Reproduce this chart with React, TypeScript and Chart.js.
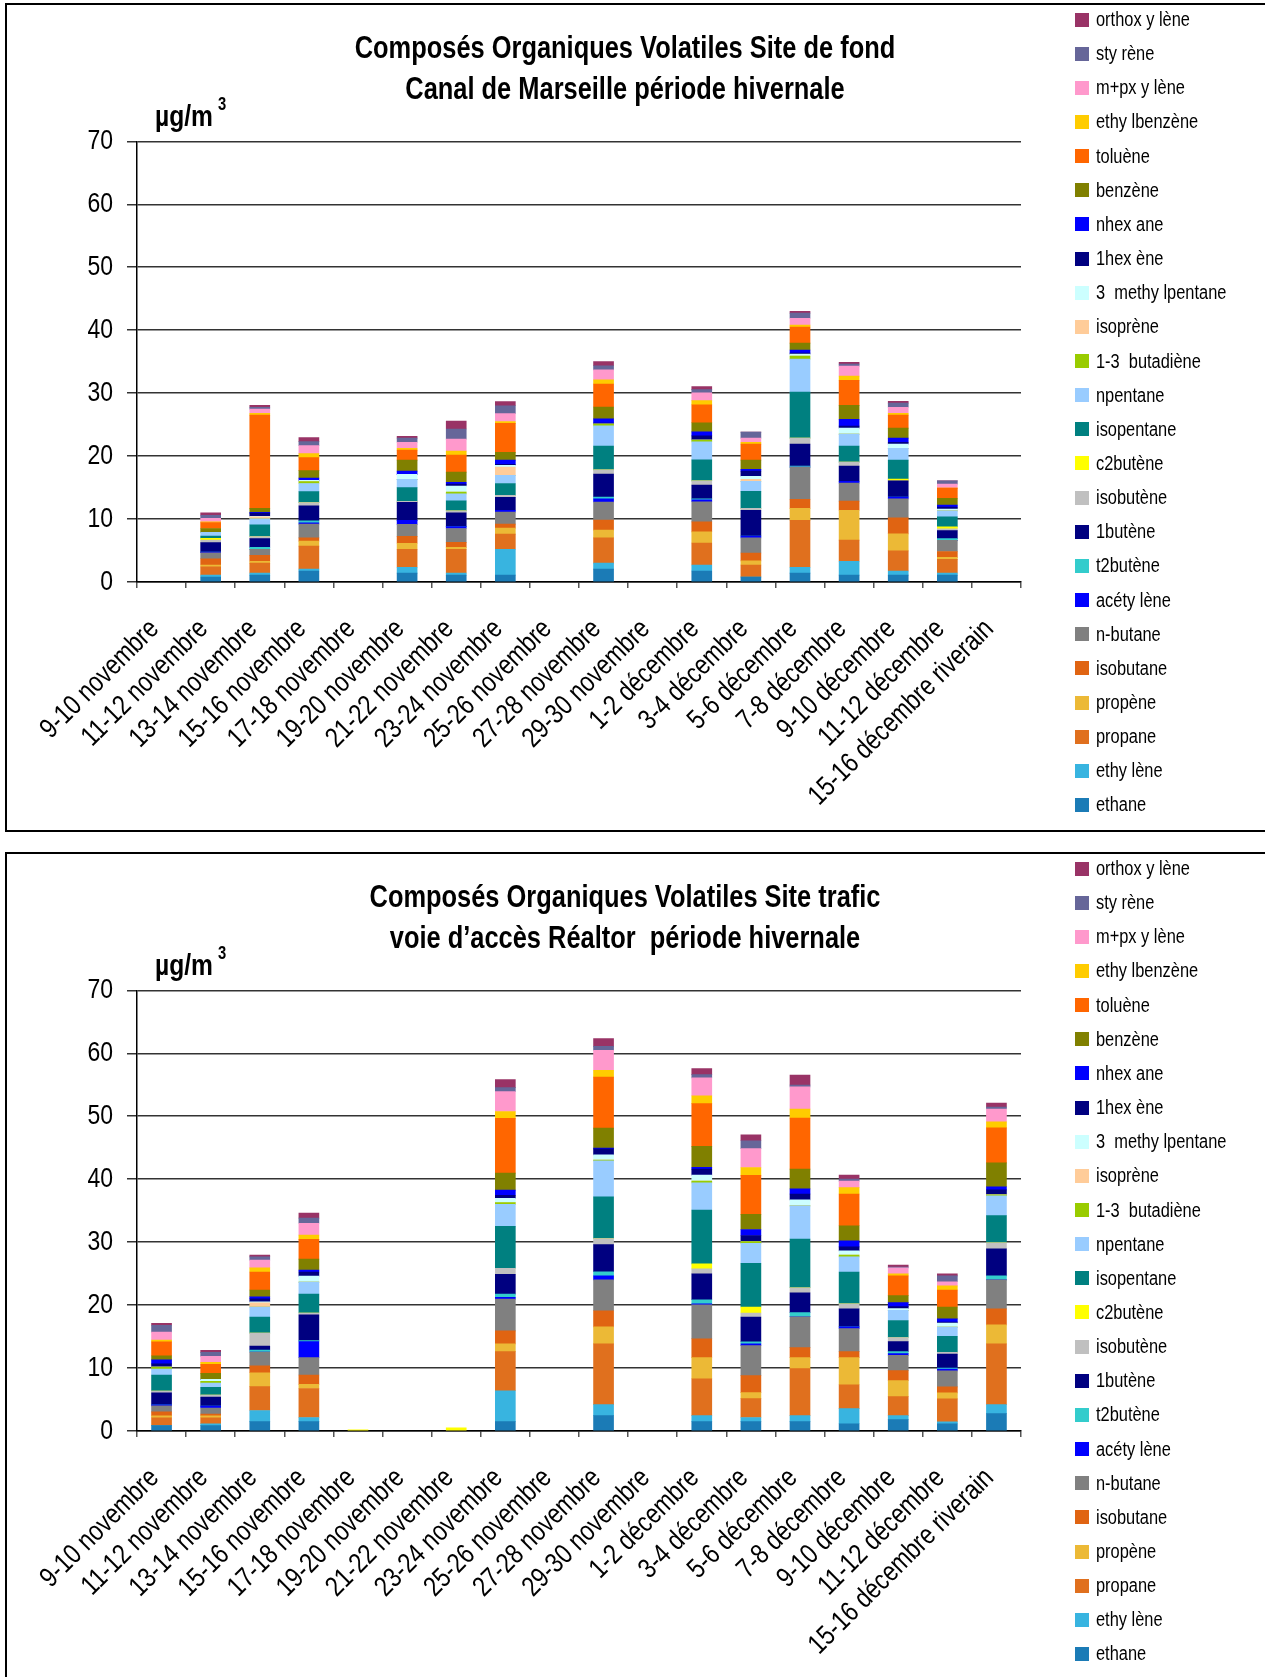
import React, { useEffect, useRef } from "react";
import { Chart, registerables } from "chart.js";

Chart.register(...registerables);

// Arial-metric face; squeezed horizontally to give the narrow look of the labels
const FONT = "'Liberation Sans', Arial, sans-serif";
const NARROW = 0.82;

const categories = [
  "9-10 novembre", "11-12 novembre", "13-14 novembre", "15-16 novembre", "17-18 novembre",
  "19-20 novembre", "21-22 novembre", "23-24 novembre", "25-26 novembre", "27-28 novembre",
  "29-30 novembre", "1-2 décembre", "3-4 décembre", "5-6 décembre", "7-8 décembre",
  "9-10 décembre", "11-12 décembre", "15-16 décembre riverain",
];

const yMin = 0;
const yMax = 70;
const yStep = 10;

// compounds, stacked from the bottom of each bar upwards
const compoundLabels = [
  "ethane", "ethy lène", "propane", "propène", "isobutane", "n-butane", "acéty lène", "t2butène",
  "1butène", "isobutène", "c2butène", "isopentane", "npentane", "1-3  butadiène", "isoprène",
  "3  methy lpentane", "1hex ène", "nhex ane", "benzène", "toluène", "ethy lbenzène", "m+px y lène",
  "sty rène", "orthox y lène",
];

const compoundColors = [
  "#1B7BB6", "#38B4E0", "#E0701E", "#ECB936", "#E06412", "#808080", "#0000FF", "#33CCCC",
  "#000080", "#C0C0C0", "#FFFF00", "#008080", "#99CCFF", "#99CC00", "#FFCC99",
  "#CCFFFF", "#000080", "#0000FF", "#808000", "#FF6600", "#FFCC00", "#FF99CC",
  "#666699", "#993366",
];

const _ = null;

// Site de fond — Canal de Marseille (µg/m3)
const fondEthane = [_, 0.8, 1.1, 1.75, _, 1.4, 1.1, 1.1, _, 2.05, _, 1.75, 0.8, 1.4, 1.1, 1.1, 1.1, _];
const fondEthylene = [_, 0.3, 0.3, 0.3, _, 0.95, 0.3, 4.1, _, 0.95, _, 0.95, 0, 0.95, 2.2, 0.65, 0.3, _];
const fondPropane = [_, 1.3, 1.6, 3.65, _, 2.85, 3.8, 2.4, _, 4.0, _, 3.5, 1.9, 7.45, 3.35, 3.2, 2.2, _];
const fondPropene = [_, 0.3, 0.3, 0.8, _, 0.95, 0.3, 0.95, _, 1.25, _, 1.75, 0.65, 1.9, 4.75, 2.7, 0.3, _];
const fondIsobutane = [_, 1.0, 0.95, 0.5, _, 1.1, 0.8, 0.65, _, 1.6, _, 1.6, 1.25, 1.45, 1.45, 2.55, 0.95, _];
const fondNbutane = [_, 0.95, 0.95, 2.2, _, 1.9, 2.2, 1.9, _, 2.85, _, 3.2, 2.4, 5.1, 2.85, 3.0, 1.75, _];
const fondAcetylene = [_, 0.1, 0, 0.2, _, 0.65, 0.3, 0.3, _, 0.5, _, 0.3, 0.3, 0, 0.3, 0.3, 0, _];
const fondT2butene = [_, 0, 0.3, 0.3, _, 0, 0, 0, _, 0.3, _, 0.15, 0, 0.15, 0, 0, 0.3, _];
const fond1butene = [_, 1.5, 1.4, 2.4, _, 2.85, 2.2, 2.05, _, 3.65, _, 2.2, 4.1, 3.5, 2.4, 2.55, 1.25, _];
const fondIsobutene = [_, 0.4, 0.3, 0.5, _, 0.15, 0.3, 0.3, _, 0.65, _, 0.65, 0.3, 0.95, 0.65, 0, 0.3, _];
const fondC2butene = [_, 0.3, 0, 0, _, 0, 0, 0, _, 0, _, 0, 0, 0, 0, 0.3, 0.3, _];
const fondIsopentane = [_, 0.35, 1.9, 1.75, _, 2.2, 1.6, 1.9, _, 3.8, _, 3.35, 2.7, 7.3, 2.55, 3.0, 1.6, _];
const fondNpentane = [_, 0.6, 0.95, 1.3, _, 1.3, 1.1, 1.3, _, 3.2, _, 2.85, 1.6, 5.25, 1.9, 1.9, 0.95, _];
const fondButadiene = [_, 0, 0, 0.3, _, 0, 0.3, 0, _, 0.3, _, 0.3, 0, 0.5, 0, 0, 0, _];
const fondIsoprene = [_, 0, 0.3, 0, _, 0, 0, 1.3, _, 0, _, 0, 0.3, 0, 0, 0, 0, _];
const fondMethylpentane = [_, 0, 0.1, 0.2, _, 0.8, 0.95, 0.3, _, 0, _, 0, 0.5, 0.3, 0.95, 0.65, 0.3, _];
const fond1hexene = [_, 0, 0.5, 0, _, 0, 0.3, 0.15, _, 0.15, _, 0.65, 0.8, 0.15, 0.3, 0.3, 0.3, _];
const fondNhexane = [_, 0, 0.1, 0.35, _, 0.5, 0.3, 0.65, _, 0.65, _, 0.65, 0.3, 0.5, 1.1, 0.65, 0.3, _];
const fondBenzene = [_, 0.6, 0.65, 1.2, _, 1.75, 1.6, 1.25, _, 1.9, _, 1.45, 1.45, 1.1, 2.2, 1.6, 1.1, _];
const fondToluene = [_, 0.95, 14.8, 2.05, _, 1.6, 2.7, 4.6, _, 3.65, _, 2.85, 2.55, 2.55, 4.0, 2.05, 1.6, _];
const fondEthylbenzene = [_, 0.1, 0.3, 0.65, _, 0.3, 0.65, 0.3, _, 0.65, _, 0.65, 0.3, 0.3, 0.65, 0.3, 0, _];
const fondMpXylene = [_, 0.55, 0.65, 1.25, _, 0.95, 1.9, 1.25, _, 1.6, _, 1.25, 0.65, 1.1, 1.6, 0.95, 0.65, _];
const fondStyrene = [_, 0.5, 0.3, 0.65, _, 0.65, 1.6, 1.25, _, 0.65, _, 0.5, 0.95, 0.8, 0.3, 0.65, 0.5, _];
const fondOrthoxylene = [_, 0.4, 0.3, 0.65, _, 0.3, 1.25, 0.65, _, 0.65, _, 0.5, 0, 0.3, 0.3, 0.3, 0, _];

// Site trafic — voie d'accès Réaltor (µg/m3)
const traficEthane = [0.85, 0.85, 1.5, 1.5, _, _, _, 1.5, _, 2.45, _, 1.5, 1.5, 1.5, 1.15, 1.8, 1.15, 2.75];
const traficEthylene = [0, 0.3, 1.75, 0.65, _, _, _, 4.9, _, 1.75, _, 0.95, 0.65, 0.95, 2.4, 0.65, 0.3, 1.45];
const traficPropane = [1.25, 0.95, 3.8, 4.6, _, _, _, 6.2, _, 9.65, _, 5.85, 3.0, 7.45, 3.8, 3.0, 3.65, 9.65];
const traficPropene = [0.3, 0.3, 2.2, 0.65, _, _, _, 1.25, _, 2.7, _, 3.35, 0.95, 1.75, 4.3, 2.55, 0.95, 3.0];
const traficIsobutane = [0.65, 0.3, 1.1, 1.5, _, _, _, 2.05, _, 2.55, _, 3.0, 2.7, 1.6, 0.95, 1.6, 0.95, 2.55];
const traficNbutane = [0.95, 0.95, 2.2, 2.75, _, _, _, 5.05, _, 4.9, _, 5.4, 4.75, 4.9, 3.65, 2.4, 2.55, 4.6];
const traficAcetylene = [0.15, 0.3, 0, 2.55, _, _, _, 0.3, _, 0.65, _, 0.15, 0.3, 0, 0.3, 0.3, 0.3, 0];
const traficT2butene = [0, 0, 0.3, 0.15, _, _, _, 0.5, _, 0.65, _, 0.65, 0.3, 0.65, 0, 0.3, 0.15, 0.65];
const trafic1butene = [1.9, 1.45, 0.65, 4.1, _, _, _, 3.15, _, 4.3, _, 4.1, 3.95, 3.15, 2.85, 1.6, 2.2, 4.3];
const traficIsobutene = [0.3, 0.3, 2.05, 0.3, _, _, _, 0.95, _, 0.95, _, 0.8, 0.65, 0.8, 0.8, 0.65, 0.3, 0.95];
const traficC2butene = [0, 0, 0, 0, 0.2, _, 0.5, 0, _, 0, _, 0.8, 0.95, 0, 0, 0, 0, 0];
const traficIsopentane = [2.55, 1.25, 2.55, 3.0, _, _, _, 6.65, _, 6.65, _, 8.55, 6.95, 7.75, 5.05, 2.7, 2.55, 4.3];
const traficNpentane = [0.95, 0.65, 1.6, 1.9, _, _, _, 3.5, _, 5.7, _, 4.3, 3.15, 5.25, 2.4, 1.6, 1.45, 3.15];
const traficButadiene = [0.3, 0.3, 0, 0, _, _, _, 0.3, _, 0.15, _, 0.3, 0.3, 0, 0.3, 0, 0, 0.15];
const traficIsoprene = [0, 0, 0.65, 0, _, _, _, 0, _, 0, _, 0, 0, 0, 0, 0, 0, 0];
const traficMethylpentane = [0, 0.3, 0.15, 0.95, _, _, _, 0.65, _, 0.8, _, 0.95, 0, 0.95, 0.65, 0.3, 0.65, 0];
const trafic1hexene = [0.5, 0, 0.5, 0.65, _, _, _, 0.5, _, 0.95, _, 0.95, 0.95, 0.95, 0.65, 0.3, 0.15, 0.8];
const traficNhexane = [0.65, 0, 0.3, 0.3, _, _, _, 0.8, _, 0.15, _, 0.3, 0.95, 0.8, 0.95, 0.65, 0.5, 0.5];
const traficBenzene = [0.65, 0.95, 1.1, 1.75, _, _, _, 2.7, _, 3.15, _, 3.3, 2.4, 3.15, 2.4, 1.1, 1.9, 3.8];
const traficToluene = [2.2, 1.45, 2.85, 3.15, _, _, _, 8.7, _, 8.1, _, 6.8, 6.2, 8.1, 5.05, 3.15, 2.7, 5.55];
const traficEthylbenzene = [0.3, 0.3, 0.65, 0.65, _, _, _, 1.1, _, 1.1, _, 1.25, 1.25, 1.45, 1.0, 0.3, 0.65, 0.95];
const traficMpXylene = [1.25, 0.95, 1.25, 1.9, _, _, _, 3.15, _, 3.15, _, 2.85, 3.0, 3.5, 1.05, 0.95, 0.65, 2.05];
const traficStyrene = [1.1, 0.65, 0.5, 0.8, _, _, _, 0.65, _, 0.65, _, 0.5, 1.25, 0.3, 0.3, 0.15, 0.95, 0.3];
const traficOrthoxylene = [0.3, 0.3, 0.3, 0.8, _, _, _, 1.25, _, 1.25, _, 0.95, 0.95, 1.6, 0.65, 0.3, 0.3, 0.65];

const fondSeries = [
  fondEthane, fondEthylene, fondPropane, fondPropene, fondIsobutane, fondNbutane, fondAcetylene,
  fondT2butene, fond1butene, fondIsobutene, fondC2butene, fondIsopentane, fondNpentane, fondButadiene,
  fondIsoprene, fondMethylpentane, fond1hexene, fondNhexane, fondBenzene, fondToluene,
  fondEthylbenzene, fondMpXylene, fondStyrene, fondOrthoxylene,
];

const traficSeries = [
  traficEthane, traficEthylene, traficPropane, traficPropene, traficIsobutane, traficNbutane,
  traficAcetylene, traficT2butene, trafic1butene, traficIsobutene, traficC2butene, traficIsopentane,
  traficNpentane, traficButadiene, traficIsoprene, traficMethylpentane, trafic1hexene, traficNhexane,
  traficBenzene, traficToluene, traficEthylbenzene, traficMpXylene, traficStyrene, traficOrthoxylene,
];

const CANVAS_W = 1040;
const CANVAS_H = 730;

// Draw every canvas string horizontally condensed around its anchor point.
function condenseText(ctx: CanvasRenderingContext2D) {
  const baseFill = ctx.fillText;
  ctx.fillText = function (text: string, x: number, y: number) {
    this.save();
    this.translate(x, y);
    this.scale(NARROW, 1);
    baseFill.call(this, text, 0, 0);
    this.restore();
  } as any;
}

function StackedChart({ series }: { series: (number | null)[][] }) {
  const ref = useRef<HTMLCanvasElement | null>(null);
  useEffect(() => {
    const canvas = ref.current;
    if (!canvas) return;
    const ctx = canvas.getContext("2d");
    if (!ctx) return;
    condenseText(ctx);
    const chart = new Chart(ctx, {
      type: "bar",
      data: {
        labels: categories,
        datasets: series.map((values, i) => ({
          label: compoundLabels[i],
          data: values,
          backgroundColor: compoundColors[i],
          borderWidth: 0,
          barThickness: 20,
          stack: "cov",
        })),
      },
      options: {
        animation: false,
        responsive: false,
        maintainAspectRatio: false,
        layout: { padding: { top: 41.3, right: 19, bottom: 0, left: 0 } },
        plugins: {
          legend: { display: false },
          title: { display: false },
          tooltip: { enabled: false },
        },
        scales: {
          x: {
            stacked: true,
            offset: true,
            grid: {
              display: true,
              drawOnChartArea: false,
              drawTicks: true,
              tickLength: 6,
              color: "#555",
              lineWidth: 1.5,
              offset: true,
            },
            border: { color: "#000", width: 1.5 },
            ticks: {
              autoSkip: false,
              minRotation: 45,
              maxRotation: 45,
              color: "#000",
              padding: 25,
              labelOffset: -7,
              font: { family: FONT, size: 28 },
            },
            afterFit: (scale: any) => {
              scale.height = 248;
              scale.paddingLeft = 0;
              scale.paddingRight = 0;
            },
          },
          y: {
            stacked: true,
            min: yMin,
            max: yMax,
            ticks: {
              stepSize: yStep,
              color: "#000",
              padding: 14,
              font: { family: FONT, size: 28 },
            },
            grid: { color: "#333", lineWidth: 1.5, tickLength: 10, drawTicks: true },
            border: { color: "#000", width: 1.5 },
            afterFit: (scale: any) => {
              scale.width = 137;
            },
          },
        },
      },
    } as any);
    return () => chart.destroy();
  }, [series]);
  return <canvas ref={ref} width={CANVAS_W} height={CANVAS_H} style={{ display: "block" }} />;
}

const narrowLine = (origin: string): React.CSSProperties => ({
  transform: `scaleX(${NARROW})`,
  transformOrigin: origin,
});

function Panel({
  top,
  height,
  title1,
  title2,
  series,
}: {
  top: number;
  height: number;
  title1: string;
  title2: string;
  series: (number | null)[][];
}) {
  const legendOrder = compoundLabels.map((_l, i) => i).reverse();
  return (
    <>
      <div
        style={{
          position: "absolute",
          left: 5,
          top,
          width: 1300,
          height,
          border: "2px solid #000",
          boxSizing: "border-box",
        }}
      />
      <div style={{ position: "absolute", left: 0, top: top + 97, width: CANVAS_W, height: CANVAS_H }}>
        <StackedChart series={series} />
      </div>
      <div
        style={{
          position: "absolute",
          left: 0,
          top: top + 23.5,
          width: 1250,
          textAlign: "center",
          fontFamily: FONT,
          fontWeight: "bold",
          fontSize: 31,
          lineHeight: "41px",
          whiteSpace: "pre",
          color: "#000",
        }}
      >
        <div style={narrowLine("50% 50%")}>{title1}</div>
        <div style={narrowLine("50% 50%")}>{title2}</div>
      </div>
      <div
        style={{
          position: "absolute",
          left: 155,
          top: top + 97.5,
          fontFamily: FONT,
          fontWeight: "bold",
          fontSize: 30,
          lineHeight: "30px",
          whiteSpace: "pre",
          color: "#000",
          ...narrowLine("0 50%"),
        }}
      >
        µg/m
      </div>
      <div
        style={{
          position: "absolute",
          left: 218,
          top: top + 91,
          fontFamily: FONT,
          fontWeight: "bold",
          fontSize: 18,
          lineHeight: "20px",
          color: "#000",
          ...narrowLine("0 50%"),
        }}
      >
        3
      </div>
      {legendOrder.map((idx, row) => (
        <div
          key={idx}
          style={{
            position: "absolute",
            left: 1075,
            top: top + 16.5 + row * 34.15 - 12,
            height: 24,
            display: "flex",
            alignItems: "center",
            fontFamily: FONT,
            fontSize: 20,
            color: "#000",
            whiteSpace: "pre",
          }}
        >
          <span
            style={{
              display: "inline-block",
              width: 14,
              height: 14,
              background: compoundColors[idx],
              marginRight: 7,
              flex: "none",
            }}
          />
          <span style={narrowLine("0 50%")}>{compoundLabels[idx]}</span>
        </div>
      ))}
    </>
  );
}

export default function App() {
  return (
    <div
      style={{
        position: "absolute",
        left: 0,
        top: 0,
        width: 1265,
        height: 1677,
        overflow: "hidden",
        background: "#fff",
      }}
    >
      <Panel
        top={3}
        height={829}
        title1="Composés Organiques Volatiles Site de fond"
        title2="Canal de Marseille période hivernale"
        series={fondSeries}
      />
      <Panel
        top={852}
        height={900}
        title1="Composés Organiques Volatiles Site trafic"
        title2="voie d’accès Réaltor  période hivernale"
        series={traficSeries}
      />
    </div>
  );
}
